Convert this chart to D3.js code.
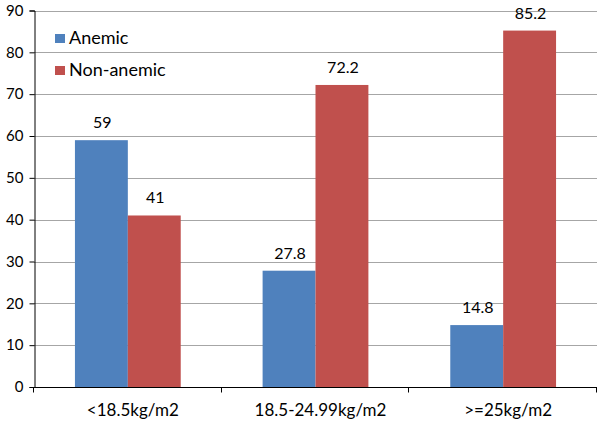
<!DOCTYPE html>
<html><head><meta charset="utf-8">
<script src="https://cdn.jsdelivr.net/npm/d3@7"></script>
<style>body{margin:0;background:#fff}svg{display:block}text{font-family:Lato,"Open Sans",sans-serif;fill:#000}</style>
</head><body>
<script>
const categories = ["<18.5kg/m2", "18.5-24.99kg/m2", ">=25kg/m2"];
const seriesNames = ["Anemic", "Non-anemic"];
const anemic = [59, 27.8, 14.8];
const nonAnemic = [41, 72.2, 85.2];
const yTicks = [0, 10, 20, 30, 40, 50, 60, 70, 80, 90];
const colors = ["#4F81BD", "#C0504D"];

const W = 598, H = 421;
const m = {left: 34, right: 1, top: 10.5, bottom: 34};
const svg = d3.select("body").append("svg").attr("width", W).attr("height", H);
const x = d3.scaleBand().domain(categories).range([m.left, W - m.right]).paddingInner(0).paddingOuter(0);
const y = d3.scaleLinear().domain([0, 90]).range([H - m.bottom, m.top]);
const inner = d3.scaleBand().domain(seriesNames).range([0, x.bandwidth()]).paddingOuter(0.774);

// grid
svg.append("g").selectAll("line").data(yTicks.slice(1)).join("line")
  .attr("x1", m.left).attr("x2", W - m.right)
  .attr("y1", d => Math.round(y(d)) + 0.5).attr("y2", d => Math.round(y(d)) + 0.5)
  .attr("stroke", "#a6a6a6").attr("stroke-width", 1);

const data = categories.map((c, i) => ({c, vals: [anemic[i], nonAnemic[i]]}));
const g = svg.append("g").selectAll("g").data(data).join("g").attr("transform", d => `translate(${x(d.c)},0)`);
g.selectAll("rect").data(d => d.vals.map((v, j) => ({v, s: seriesNames[j], j}))).join("rect")
  .attr("x", d => inner(d.s)).attr("width", inner.bandwidth())
  .attr("y", d => y(d.v)).attr("height", d => y(0) - y(d.v))
  .attr("fill", d => colors[d.j]);
g.selectAll("text").data(d => d.vals.map((v, j) => ({v, s: seriesNames[j]}))).join("text")
  .attr("x", d => inner(d.s) + inner.bandwidth() / 2 + 1).attr("y", d => y(d.v) - 12)
  .attr("text-anchor", "middle").attr("font-size", 16).text(d => d.v);

// axes
const yAxis = svg.append("g").attr("transform", `translate(${m.left + 0.5},0)`)
  .call(d3.axisLeft(y).tickValues(yTicks).tickSize(5).tickPadding(6).tickFormat(d3.format("d")));
yAxis.select(".domain").attr("stroke", "#000");
yAxis.selectAll("text").attr("font-size", 15).attr("font-family", "Lato");

const xAxis = svg.append("g").attr("transform", `translate(0,${Math.round(y(0)) + 0.5})`);
xAxis.append("line").attr("x1", m.left).attr("x2", W - m.right).attr("stroke", "#000");
const bounds = categories.map(c => x(c)).concat([x(categories[2]) + x.bandwidth()]);
xAxis.selectAll(".tk").data(bounds).join("line").attr("class", "tk")
  .attr("x1", d => Math.round(d) - 0.5).attr("x2", d => Math.round(d) - 0.5).attr("y1", 0).attr("y2", 5).attr("stroke", "#000");
xAxis.selectAll("text").data(categories).join("text")
  .attr("x", d => x(d) + x.bandwidth() / 2 + 5).attr("y", 28)
  .attr("text-anchor", "middle").attr("font-size", 17).text(d => d);

// legend
const leg = svg.append("g").selectAll("g").data(seriesNames).join("g")
  .attr("transform", (d, i) => `translate(55,${34 + i * 32})`);
leg.append("rect").attr("width", 10).attr("height", 9).attr("fill", (d, i) => colors[i]);
leg.append("text").attr("x", 14).attr("y", 10).attr("font-size", 18).text(d => d);
</script>
</body></html>
